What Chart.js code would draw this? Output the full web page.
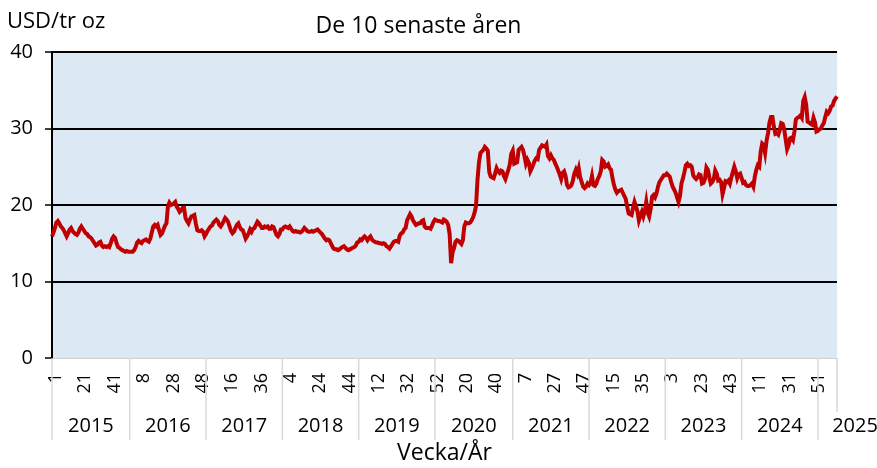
<!DOCTYPE html>
<html lang="sv">
<head>
<meta charset="UTF-8">
<title>Silver - De 10 senaste åren</title>
<script src="https://cdn.jsdelivr.net/npm/chart.js@4.4.1/dist/chart.umd.min.js"></script>
<style>
  html, body { margin: 0; padding: 0; background: #fff; }
</style>
</head>
<body>
<canvas id="chartSilver" width="877" height="468"></canvas>
<script>
  // Silverpris per vecka, USD/tr oz
  var years = ['2015', '2016', '2017', '2018', '2019', '2020', '2021', '2022', '2023', '2024', '2025'];
  var weeksPerYear = [53, 52, 52, 52, 52, 53, 52, 52, 52, 52, 14];

  var price2015 = [15.9, 16.4, 17.0, 17.7, 17.9, 17.6, 17.2, 17.0, 16.7, 16.3,
    15.9, 16.3, 16.8, 17.0, 16.6, 16.4, 16.2, 16.1, 16.4, 16.9,
    17.2, 16.9, 16.6, 16.3, 16.2, 15.9, 15.8, 15.6, 15.3, 15.0,
    14.7, 14.8, 15.1, 15.2, 14.7, 14.5, 14.6, 14.5, 14.6, 14.5,
    15.0, 15.6, 15.9, 15.7, 15.0, 14.5, 14.4, 14.2, 14.1, 14.0,
    13.9, 14.0, 13.9];
  var price2016 = [13.9, 13.9, 13.9, 14.1, 14.5, 15.1, 15.3, 15.1, 15.0, 15.3,
    15.4, 15.5, 15.3, 15.2, 15.6, 16.4, 17.2, 17.4, 17.2, 17.4,
    16.7, 16.1, 16.3, 16.8, 17.3, 17.6, 19.8, 20.3, 20.0, 20.1,
    20.2, 20.4, 19.8, 19.5, 19.1, 19.3, 19.6, 19.6, 18.3, 17.9,
    17.6, 18.1, 18.5, 18.6, 18.7, 17.6, 16.7, 16.6, 16.6, 16.7,
    16.5, 15.9];
  var price2017 = [16.2, 16.6, 16.9, 17.2, 17.3, 17.7, 17.9, 18.1, 17.9, 17.4,
    17.2, 17.5, 17.9, 18.3, 18.1, 17.8, 17.2, 16.6, 16.3, 16.5,
    17.0, 17.4, 17.6, 17.1, 16.8, 16.7, 16.2, 15.6, 15.9, 16.3,
    16.8, 16.5, 16.9, 17.0, 17.4, 17.8, 17.6, 17.3, 17.0, 17.0,
    17.2, 17.1, 17.2, 16.9, 16.9, 17.2, 17.1, 16.6, 16.1, 15.9,
    16.2, 16.8];
  var price2018 = [16.8, 17.1, 17.2, 17.1, 17.0, 17.2, 16.9, 16.6, 16.5, 16.6,
    16.5, 16.5, 16.4, 16.5, 16.7, 17.0, 16.8, 16.6, 16.5, 16.5,
    16.6, 16.5, 16.6, 16.7, 16.8, 16.6, 16.4, 16.2, 15.9, 15.6,
    15.4, 15.5, 15.4, 15.0, 14.6, 14.3, 14.2, 14.2, 14.1, 14.2,
    14.4, 14.5, 14.6, 14.4, 14.2, 14.1, 14.2, 14.3, 14.4, 14.5,
    14.7, 15.1];
  var price2019 = [15.2, 15.5, 15.4, 15.7, 15.9, 15.7, 15.4, 15.7, 15.9, 15.5,
    15.3, 15.2, 15.1, 15.1, 15.0, 15.0, 14.9, 15.0, 14.9, 14.6,
    14.5, 14.3, 14.6, 14.9, 15.2, 15.3, 15.3, 15.2, 16.0, 16.3,
    16.4, 16.8, 17.0, 18.0, 18.4, 18.8, 18.5, 18.0, 17.7, 17.4,
    17.5, 17.6, 17.6, 17.9, 18.0, 17.2, 17.0, 17.0, 17.0, 16.9,
    17.3, 17.8];
  var price2020 = [18.1, 18.0, 17.9, 17.9, 17.8, 17.7, 18.1, 18.0, 17.8, 17.4,
    16.2, 12.4, 13.8, 14.4, 15.2, 15.4, 15.3, 15.1, 14.9, 15.4,
    17.2, 17.7, 17.6, 17.6, 17.7, 18.0, 18.4, 19.0, 19.9, 23.3,
    25.6, 26.8, 27.0, 27.2, 27.6, 27.4, 27.1, 24.3, 23.7, 23.6,
    23.5, 24.1, 24.8, 24.4, 24.2, 24.5, 24.4, 23.8, 23.4, 24.0,
    24.6, 25.3, 26.7];
  var price2021 = [27.1, 25.4, 25.5, 25.6, 27.2, 27.4, 27.6, 27.2, 26.4, 25.4,
    25.9, 25.5, 24.4, 24.8, 25.3, 25.8, 26.1, 26.0, 27.2, 27.5,
    27.8, 27.7, 27.6, 27.9, 26.4, 26.1, 26.5, 26.1, 25.9, 25.4,
    25.0, 24.5, 24.0, 23.4, 24.2, 24.4, 23.8, 22.6, 22.3, 22.4,
    22.6, 23.2, 24.1, 24.6, 24.1, 24.8, 23.6, 23.0, 22.4, 22.2,
    22.4, 22.8];
  var price2022 = [22.6, 22.9, 23.8, 22.6, 22.5, 22.8, 23.4, 23.8, 24.4, 25.9,
    25.7, 25.0, 25.1, 25.3, 24.8, 24.6, 23.5, 22.6, 22.0, 21.6,
    21.8, 21.9, 22.0, 21.6, 21.2, 20.8, 19.8, 18.9, 18.8, 18.7,
    19.6, 20.4, 19.8, 19.2, 18.0, 18.6, 19.1, 18.5, 19.2, 20.4,
    19.0, 18.5, 19.5, 21.1, 21.3, 21.0, 21.5, 22.4, 23.0, 23.3,
    23.6, 23.9];
  var price2023 = [23.9, 24.1, 23.9, 23.7, 23.0, 22.4, 22.0, 21.6, 21.0, 20.4,
    21.2, 22.8, 23.5, 24.3, 25.2, 25.4, 25.1, 25.2, 25.0, 23.9,
    23.6, 23.4, 23.6, 24.0, 23.9, 22.8, 22.9, 23.4, 24.9, 24.6,
    23.6, 22.8, 23.0, 23.4, 24.5, 24.1, 23.2, 23.3, 23.0, 21.4,
    22.2, 23.1, 23.0, 23.2, 22.8, 23.6, 24.3, 25.0, 24.4, 23.5,
    24.0, 24.1];
  var price2024 = [23.5, 22.9, 23.0, 22.6, 22.5, 22.5, 22.6, 22.8, 22.4, 23.7,
    24.6, 25.2, 25.0, 27.0, 28.0, 27.8, 26.8, 28.4, 29.4, 30.8,
    31.5, 31.5, 30.2, 29.3, 29.4, 29.2, 29.8, 30.7, 30.6, 29.9,
    28.6, 27.3, 27.8, 28.7, 28.8, 28.5, 29.6, 31.2, 31.4, 31.5,
    31.7, 31.4, 33.6, 34.1, 33.1, 30.9, 30.8, 30.6, 30.5, 31.4,
    30.8, 29.6];
  var price2025 = [29.7, 29.9, 30.0, 30.4, 30.7, 31.5, 32.2, 32.0, 32.3, 32.9,
    33.0, 33.6, 33.9, 34.2];

  var yTicks = [0, 10, 20, 30, 40];

  var prices = [].concat(price2015, price2016, price2017, price2018, price2019,
    price2020, price2021, price2022, price2023, price2024, price2025);

  // veckonummer som kategorier
  var weekLabels = [];
  var yearStart = [];
  for (var y = 0; y < years.length; y++) {
    yearStart.push(weekLabels.length);
    for (var w = 1; w <= weeksPerYear[y]; w++) weekLabels.push(String(w));
  }

  var FONT = "'Open Sans', sans-serif";
  Chart.defaults.font.family = FONT;
  Chart.defaults.color = '#000';

  // bakgrund i diagramytan
  var plotBackground = {
    id: 'plotBackground',
    beforeDraw: function (chart) {
      var a = chart.chartArea, ctx = chart.ctx;
      ctx.save();
      ctx.fillStyle = '#dde8f5';
      ctx.fillRect(a.left, a.top, a.right - a.left, a.bottom - a.top);
      ctx.restore();
    }
  };

  // årsavdelare, årtal och enhet
  var yearAxis = {
    id: 'yearAxis',
    afterDraw: function (chart) {
      var ctx = chart.ctx, x = chart.scales.x, a = chart.chartArea;
      ctx.save();
      ctx.strokeStyle = '#d9d9d9';
      ctx.lineWidth = 1.5;
      for (var i = 0; i < years.length; i++) {
        var px = x.getPixelForValue(yearStart[i]);
        ctx.beginPath();
        ctx.moveTo(px, a.bottom);
        ctx.lineTo(px, a.bottom + 82);
        ctx.stroke();
      }
      var endPx = x.getPixelForValue(prices.length - 1);
      ctx.beginPath();
      ctx.moveTo(endPx, a.bottom);
      ctx.lineTo(endPx, a.bottom + 54);
      ctx.stroke();

      ctx.fillStyle = '#000';
      ctx.font = '20px ' + FONT;
      ctx.textAlign = 'center';
      ctx.textBaseline = 'middle';
      for (var j = 0; j < years.length; j++) {
        var x0 = x.getPixelForValue(yearStart[j]);
        var x1 = j < years.length - 1 ? x.getPixelForValue(yearStart[j + 1]) : endPx;
        var cx = j < years.length - 1 ? (x0 + x1) / 2 : x1 + 18;
        ctx.fillText(years[j], cx, a.bottom + 68);
      }

      ctx.font = '22px ' + FONT;
      ctx.textAlign = 'left';
      ctx.fillText('USD/tr oz', 7, 22);
      ctx.restore();
    }
  };

  var ctxSilver = document.getElementById('chartSilver').getContext('2d');
  var chartSilver = new Chart(ctxSilver, {
    type: 'line',
    data: {
      labels: weekLabels,
      datasets: [{
        label: 'Silver',
        data: prices,
        borderColor: '#c00000',
        borderWidth: 4,
        pointRadius: 0,
        tension: 0,
        fill: false
      }]
    },
    options: {
      responsive: false,
      animation: false,
      layout: { padding: { left: 0, right: 40, top: 0, bottom: 0 } },
      plugins: {
        legend: { display: false },
        tooltip: { enabled: false },
        title: {
          display: true,
          text: 'De 10 senaste åren',
          font: { size: 23, weight: 'normal', lineHeight: 1.2 },
          padding: { top: 13, bottom: 11.4 }
        }
      },
      scales: {
        x: {
          type: 'category',
          afterFit: function (s) { s.height = 110; },
          grid: { display: false, drawTicks: false },
          border: { display: true, color: '#d0d0d0', width: 1 },
          ticks: {
            autoSkip: false,
            minRotation: 90,
            maxRotation: 90,
            padding: 15,
            labelOffset: 4,
            font: { size: 18 },
            callback: function (v, i) { return i % 20 === 0 ? weekLabels[i] : ''; }
          },
          title: {
            display: true,
            text: 'Vecka/År',
            font: { size: 23 },
            padding: { top: 0, bottom: 1 }
          }
        },
        y: {
          min: 0,
          max: 40,
          afterFit: function (s) { s.width = 52; },
          afterBuildTicks: function (s) { s.ticks = yTicks.map(function (v) { return { value: v }; }); },
          grid: {
            color: function (c) { return c.tick && c.tick.value === 0 ? 'rgba(0,0,0,0)' : '#000'; },
            lineWidth: 2,
            tickLength: 7,
            tickColor: '#000',
            tickWidth: 1.5
          },
          border: { display: true, color: '#000', width: 2 },
          ticks: { padding: 12, font: { size: 20 } }
        }
      }
    },
    plugins: [plotBackground, yearAxis]
  });
</script>
</body>
</html>
